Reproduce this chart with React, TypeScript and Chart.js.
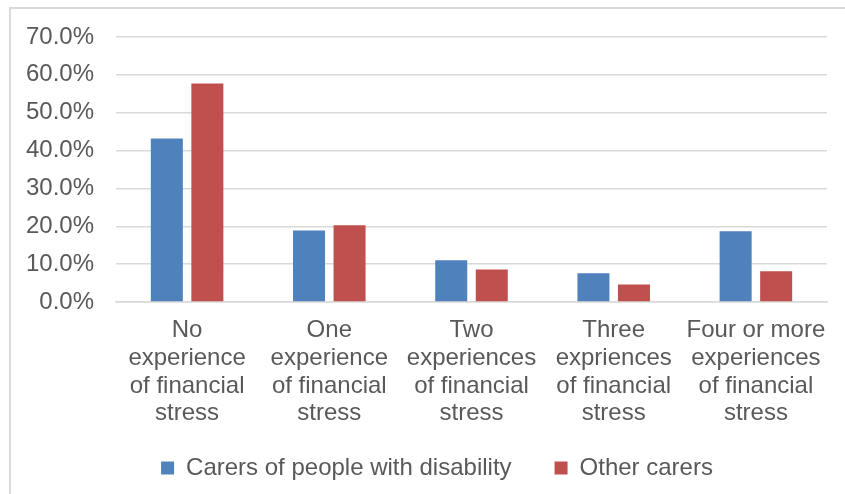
import React, { useEffect, useRef } from "react";
import { Chart, registerables } from "chart.js";

Chart.register(...registerables);

const categories: string[][] = [
  ["No", "experience", "of financial", "stress"],
  ["One", "experience", "of financial", "stress"],
  ["Two", "experiences", "of financial", "stress"],
  ["Three", "expriences", "of financial", "stress"],
  ["Four or more", "experiences", "of financial", "stress"],
];
const carersDisability: number[] = [43.2, 18.9, 11.0, 7.6, 18.7];
const otherCarers: number[] = [57.7, 20.3, 8.6, 4.6, 8.1];
const seriesNames: string[] = ["Carers of people with disability", "Other carers"];

const FONT = "'Liberation Sans', Arial, sans-serif";
const TEXT = "#595959";
const GRID = "#d9d9d9";

const layoutTweak = {
  id: "layoutTweak",
  afterLayout(chart: any) {
    const x = chart.scales.x;
    if (x) {
      x.bottom += 40;
      x.height += 40;
    }
    const lg = chart.legend;
    if (lg) {
      lg.left += 47;
    }
  },
};

export default function App() {
  const ref = useRef<HTMLCanvasElement | null>(null);

  useEffect(() => {
    document.body.style.margin = "0";
    const canvas = ref.current;
    if (!canvas) return;
    const chart = new Chart(canvas, {
      type: "bar",
      data: {
        labels: categories,
        datasets: [
          {
            label: seriesNames[0],
            data: carersDisability,
            backgroundColor: "#4f81bd",
            barPercentage: 0.79,
            categoryPercentage: 0.57,
          },
          {
            label: seriesNames[1],
            data: otherCarers,
            backgroundColor: "#c0504d",
            barPercentage: 0.79,
            categoryPercentage: 0.57,
          },
        ],
      },
      plugins: [layoutTweak],
      options: {
        animation: false,
        responsive: false,
        maintainAspectRatio: false,
        layout: { padding: { left: 0, right: 18, top: 37, bottom: 4 } },
        plugins: {
          tooltip: { enabled: false },
          legend: {
            position: "bottom",
            labels: {
              color: TEXT,
              font: { family: FONT, size: 24 },
              boxWidth: 13,
              boxHeight: 13,
              padding: 43,
            },
          },
        },
        scales: {
          x: {
            grid: { display: false, drawTicks: false },
            border: { display: true, color: GRID, width: 1.5 },
            ticks: {
              color: TEXT,
              font: { family: FONT, size: 24, lineHeight: 1.15 },
              padding: 15,
              maxRotation: 0,
              autoSkip: false,
            },
            afterFit: (scale: any) => {
              scale.height = 111;
            },
          },
          y: {
            min: 0,
            max: 70,
            grid: { color: GRID, lineWidth: 1.5, drawTicks: false },
            border: { display: false },
            ticks: {
              stepSize: 10,
              color: TEXT,
              font: { family: FONT, size: 24 },
              padding: 22,
              callback: (v: any) => Number(v).toFixed(1) + "%",
            },
            afterFit: (scale: any) => {
              scale.width = 116;
            },
          },
        },
      },
    });
    return () => chart.destroy();
  }, []);

  return (
    <div style={{ position: "relative", width: 845, height: 494, overflow: "hidden", background: "#fff" }}>
      <div
        style={{
          position: "absolute",
          left: 9,
          top: 7,
          width: 900,
          height: 600,
          border: `2px solid ${GRID}`,
          boxSizing: "border-box",
        }}
      />
      <canvas ref={ref} width={845} height={494} style={{ position: "absolute", left: 0, top: 0, display: "block" }} />
    </div>
  );
}
